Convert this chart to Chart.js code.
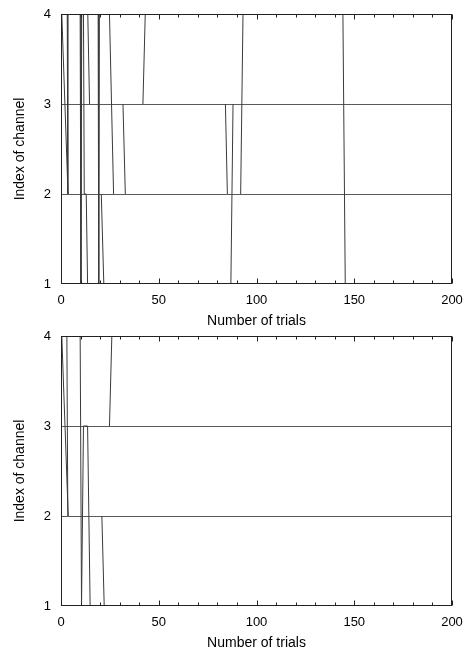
<!DOCTYPE html>
<html><head><meta charset="utf-8">
<script src="https://cdn.jsdelivr.net/npm/chart.js@4"></script>
<style>
html,body{margin:0;padding:0;background:#fff;}
#wrap{position:relative;width:472px;height:650px;overflow:hidden;background:#fff;}
canvas{position:absolute;left:0;}
</style></head><body>
<div id="wrap">
<canvas id="c1" width="472" height="330" style="top:0px"></canvas>
<canvas id="c2" width="472" height="332" style="top:320px"></canvas>
</div>
<script>
// ---- axis definitions ----
const xTickValues = [0, 50, 100, 150, 200];
const yTickValues = [1, 2, 3, 4];
const xMinorStep = 10;
const xAxisTitle = 'Number of trials';
const yAxisTitle = 'Index of channel';

// ---- top panel: trial number vs selected channel (null = break in trace) ----
const trialsTop  = [0.4, 3.6, 3.6,  3.2, 3.5, 3.5,  9.8, 10.2, 10.6, 11.5, 11.9, 12.9, 13.6, 13.6,
                    13.7, 14.6, 14.6,  19.0, 19.3, 19.6, 19.6,  20.6, 21.9, 21.9,  24.8, 26.9, 26.9,
                    31.7, 32.9, 32.9,  41.9, 43.1, 43.1,  84.1, 85.1, 85.1,  86.9, 88.0, 88.0,
                    91.9, 93.1, 144.2, 145.4, 200];
const channelTop = [4, 2, null,  4, 2, null,  4, 1, 4, 4, 2, 2, 1, null,
                    4, 3, null,  4, 1, 4, null,  2, 1, null,  4, 2, null,
                    3, 2, null,  3, 4, null,  3, 2, null,  1, 3, null,
                    2, 4, 4, 1, 1];

// ---- bottom panel ----
const trialsBottom  = [0.4, 3.7, 3.7,  3.0, 3.5, 3.5,  9.8, 10.5, 10.7, 11.5, 13.6, 14.9, 14.9,
                       20.9, 22.1, 22.1,  24.8, 26.0, 200];
const channelBottom = [4, 2, null,  4, 2, null,  4, 1, 1, 3, 3, 1, null,
                       2, 1, null,  3, 4, 4];

Chart.defaults.font.family = "'Liberation Sans', Arial, Helvetica, sans-serif";
Chart.defaults.color = '#000';

const framePlugin = {
  id: 'frame',
  afterDatasetsDraw(chart) {
    const {ctx, chartArea: a, scales: {x}} = chart;
    ctx.save();
    ctx.strokeStyle = '#222';
    ctx.lineWidth = 1;
    const L = Math.round(a.left) + 0.5, R = Math.round(a.right) - 0.5;
    const T = Math.round(a.top) + 0.5, B = Math.round(a.bottom) - 0.5;
    ctx.strokeRect(L, T, R - L, B - T);
    ctx.beginPath();
    for (let v = x.min; v <= x.max; v += xMinorStep) {
      const px = Math.round(x.getPixelForValue(v)) + 0.5;
      const len = xTickValues.includes(v) ? 5 : 3;
      ctx.moveTo(px, B); ctx.lineTo(px, B - len);
      ctx.moveTo(px, T); ctx.lineTo(px, T + len);
    }
    ctx.stroke();
    ctx.restore();
  }
};

function makeChart(id, trials, channels, padTop, xHeight, titlePadBottom) {
  const pts = trials.map((t, i) => ({x: t, y: channels[i]}));
  return new Chart(document.getElementById(id), {
    type: 'line',
    data: { datasets: [{
      data: pts,
      borderColor: '#3a3a3a',
      borderWidth: 1,
      pointRadius: 0,
      tension: 0,
      fill: false,
      spanGaps: false
    }]},
    options: {
      responsive: false,
      animation: false,
      events: [],
      layout: { padding: { top: padTop, right: 20, left: 0, bottom: 0 } },
      plugins: { legend: { display: false }, tooltip: { enabled: false } },
      scales: {
        x: {
          type: 'linear',
          min: xTickValues[0], max: xTickValues[xTickValues.length - 1],
          grid: { display: false, drawTicks: false },
          border: { display: false },
          ticks: {
            stepSize: 50, padding: 9, maxRotation: 0,
            font: { size: 13 },
            callback: v => xTickValues.includes(v) ? String(v) : ''
          },
          title: { display: true, text: xAxisTitle, font: { size: 14 }, padding: { top: 0, bottom: titlePadBottom } },
          afterFit: s => { s.height = xHeight; }
        },
        y: {
          type: 'linear',
          min: yTickValues[0], max: yTickValues[yTickValues.length - 1],
          grid: {
            drawTicks: false,
            lineWidth: 1,
            color: c => (c.tick && c.tick.value > yTickValues[0] && c.tick.value < yTickValues[yTickValues.length - 1]) ? '#5a5a5a' : 'rgba(0,0,0,0)'
          },
          border: { display: false },
          ticks: {
            stepSize: 1, padding: 10,
            font: { size: 13 },
            callback: v => yTickValues.includes(v) ? String(v) : ''
          },
          title: { display: true, text: yAxisTitle, font: { size: 14 }, padding: { top: 12, bottom: 0 } },
          afterFit: s => { s.width = 61; s.paddingTop = 0; s.paddingBottom = 0; }
        }
      }
    },
    plugins: [framePlugin]
  });
}

makeChart('c1', trialsTop, channelTop, 14, 46, 0);
makeChart('c2', trialsBottom, channelBottom, 16, 46, 0);
</script>
</body></html>
